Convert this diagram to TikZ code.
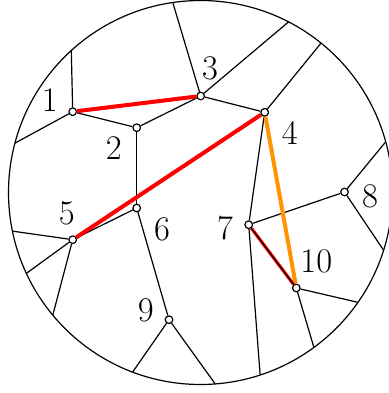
\documentclass[tikz,border=0pt]{standalone}
\usepackage{tikz}
\usepackage{xcolor}
\usetikzlibrary{calc,positioning}
\definecolor{Orange}{HTML}{FF9400}
\tikzset{
  vtx/.style={circle,draw,fill=white,inner sep=0pt,minimum size=3.8pt,semithick},
  edge/.style={semithick},
  lbl/.style={font=\LARGE,inner sep=0pt},
}

\begin{document}
\begin{tikzpicture}[x=0.5pt,y=0.5pt]
  \useasboundingbox (0,0) rectangle (388,393);
  \coordinate (o) at (200.5,200.5);
  \draw[edge] (o) circle[radius=192];
  % points on the rim
  \foreach \p/\a in {pa/132.3,pb/165.1,pc/98.3,pd/62.7,pe/51.1,pf/15.3,pg/-17.5,ph/-34.9,
                     pi/-53.8,pj/-71.9,pk/-85.6,pl/249.3,pm/219.7,pn/204.9,po/191.6}
    \coordinate (\p) at ($(o)+(\a:192)$);
  % vertices
  \node[vtx] (n1) at (72.7,281.3) {};
  \node[vtx] (n2) at (136.7,265.3) {};
  \node[vtx] (n3) at (200.7,297) {};
  \node[vtx] (n4) at (264.7,280.7) {};
  \node[vtx] (n5) at (72.7,153.3) {};
  \node[vtx] (n6) at (136.7,185) {};
  \node[vtx] (n7) at (248.7,168.3) {};
  \node[vtx] (n8) at (344.5,201) {};
  \node[vtx] (n9) at (169,73.3) {};
  \node[vtx] (n10) at (296.3,105) {};
  % labels
  \node[lbl] (t1) at (49.7,293) {1};
  \node[lbl] (t2) at (113.7,244.7) {2};
  \node[lbl] (t3) at (210,324.7) {3};
  \node[lbl] (t4) at (289.7,259.7) {4};
  \node[lbl] (t5) at (66.7,180) {5};
  \node[lbl] (t6) at (162,163.3) {6};
  \node[lbl] (t7) at (225,165) {7};
  \node[lbl] (t8) at (370,196.3) {8};
  \node[lbl] (t9) at (145.7,82.7) {9};
  \node[lbl] (t10) at (316.3,131.7) {10};
  % edges
  \foreach \u/\v in {n1/pa,n1/pb,n1/n2,n2/n3,n2/n6,n3/pc,n3/pd,n3/n4,n4/pe,n4/n7,
                     n5/n6,n5/po,n5/pn,n5/pm,n6/n9,n9/pl,n9/pk,n7/n8,n7/pj,
                     n8/pf,n8/pg,n10/ph,n10/pi}
    \draw[edge] (\u) -- (\v);
  \draw[red,line width=2pt] (n1) -- (n3);
  \draw[red,line width=2pt] (n5) -- (n4);
  \draw[Orange,line width=2pt] (n4) -- (n10);
  \draw[red,line width=1.6pt] (n7) -- (n10);
  \draw[edge] (n7) -- (n10);
\end{tikzpicture}
\end{document}
